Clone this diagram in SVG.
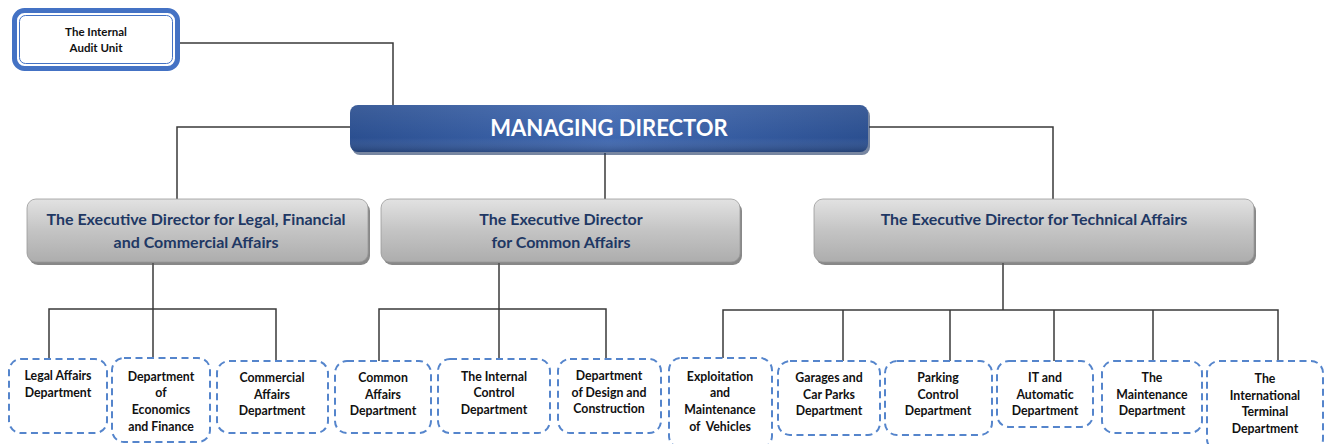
<svg xmlns="http://www.w3.org/2000/svg" width="1326" height="444" viewBox="0 0 1326 444">
<style>
.conn{fill:none;stroke:#3a3a3a;stroke-width:1.5}
.dept rect{fill:#fff;stroke:#5585CC;stroke-width:2;stroke-dasharray:7 4.5}
.dept text{font-family:Lato,"Liberation Sans",sans-serif;font-weight:bold;font-size:12.3px;fill:#111;text-anchor:middle}
.exec rect.b{fill:url(#gray);stroke:#9a9a9a;stroke-width:0.8}
.exec text{font-family:Lato,"Liberation Sans",sans-serif;font-weight:bold;font-size:16px;fill:#1F3864;text-anchor:middle}
</style>
<defs>
<linearGradient id="gray" x1="0" y1="0" x2="0" y2="1">
<stop offset="0" stop-color="#e2e2e2"/>
<stop offset="0.5" stop-color="#c4c4c4"/>
<stop offset="1" stop-color="#adadad"/>
</linearGradient>
<linearGradient id="blue" x1="0" y1="0" x2="1" y2="0">
<stop offset="0" stop-color="#2B4F90"/>
<stop offset="0.5" stop-color="#4068B0"/>
<stop offset="1" stop-color="#2B4F90"/>
</linearGradient>
<linearGradient id="blueV" x1="0" y1="0" x2="0" y2="1">
<stop offset="0" stop-color="#ffffff" stop-opacity="0.08"/>
<stop offset="0.7" stop-color="#ffffff" stop-opacity="0"/>
<stop offset="1" stop-color="#000000" stop-opacity="0.2"/>
</linearGradient>
</defs>

<g id="connectors">
<polyline class="conn" points="180,43 393,43 393,105"/>
<polyline class="conn" points="350,127 177,127 177,199"/>
<polyline class="conn" points="869,127 1053,127 1053,199"/>
<line class="conn" x1="605" y1="153" x2="605" y2="199"/>
<line class="conn" x1="153" y1="263" x2="153" y2="358"/>
<polyline class="conn" points="49,358 49,309 276,309 276,361"/>
<line class="conn" x1="499" y1="263" x2="499" y2="359"/>
<polyline class="conn" points="379,361 379,309 606,309 606,359"/>
<line class="conn" x1="1003" y1="263" x2="1003" y2="310"/>
<polyline class="conn" points="723,358 723,310 1278,310 1278,361"/>
<line class="conn" x1="843" y1="310" x2="843" y2="361"/>
<line class="conn" x1="950" y1="310" x2="950" y2="361"/>
<line class="conn" x1="1054" y1="310" x2="1054" y2="361"/>
<line class="conn" x1="1153" y1="310" x2="1153" y2="361"/>
</g>

<g id="audit">
<rect x="14.5" y="10.5" width="163" height="58" rx="10" fill="#fff" stroke="#4472C4" stroke-width="5"/>
<rect x="19.5" y="15.5" width="153" height="48" rx="6" fill="none" stroke="#4472C4" stroke-width="1"/>
<text font-family="Lato,'Liberation Sans',sans-serif" font-weight="bold" font-size="11.5" fill="#111" text-anchor="middle"><tspan x="96" y="36">The Internal</tspan><tspan x="96" y="52">Audit Unit</tspan></text>
</g>

<g id="md">
<rect x="352" y="108" width="518" height="47" rx="8" fill="#1c3563" opacity="0.6"/>
<rect x="350" y="105" width="518" height="47" rx="8" fill="url(#blue)"/>
<rect x="350" y="105" width="518" height="47" rx="8" fill="url(#blueV)"/>
<text x="609" y="136" font-family="Lato,'Liberation Sans',sans-serif" font-weight="bold" font-size="22" fill="#fff" text-anchor="middle">MANAGING DIRECTOR</text>
</g>

<g id="exec1" class="exec">
<rect x="29" y="202" width="341" height="63" rx="9" fill="#555" opacity="0.7"/>
<rect class="b" x="27" y="199" width="341" height="63" rx="9"/>
<text><tspan x="196" y="225">The Executive Director for Legal, Financial</tspan><tspan x="196" y="248">and Commercial Affairs</tspan></text>
</g>
<g id="exec2" class="exec">
<rect x="383" y="202" width="359" height="63" rx="9" fill="#555" opacity="0.7"/>
<rect class="b" x="381" y="199" width="359" height="63" rx="9"/>
<text><tspan x="561" y="225">The Executive Director</tspan><tspan x="561" y="248">for Common Affairs</tspan></text>
</g>
<g id="exec3" class="exec">
<rect x="816" y="202" width="440" height="63" rx="9" fill="#555" opacity="0.7"/>
<rect class="b" x="814" y="199" width="440" height="63" rx="9"/>
<text><tspan x="1034" y="225">The Executive Director for Technical Affairs</tspan></text>
</g>

<g id="d-legal" class="dept"><rect x="9" y="359" width="98" height="74" rx="12"/><text><tspan x="58" y="380">Legal Affairs</tspan><tspan x="58" y="397">Department</tspan></text></g>
<g id="d-econ" class="dept"><rect x="112" y="358" width="98" height="84" rx="12"/><text><tspan x="161" y="381">Department</tspan><tspan x="161" y="397">of</tspan><tspan x="161" y="414">Economics</tspan><tspan x="161" y="431">and Finance</tspan></text></g>
<g id="d-comm" class="dept"><rect x="217" y="361" width="111" height="72" rx="12"/><text><tspan x="272" y="382">Commercial</tspan><tspan x="272" y="399">Affairs</tspan><tspan x="272" y="415">Department</tspan></text></g>
<g id="d-common" class="dept"><rect x="335" y="361" width="96" height="72" rx="12"/><text><tspan x="383" y="382">Common</tspan><tspan x="383" y="399">Affairs</tspan><tspan x="383" y="415">Department</tspan></text></g>
<g id="d-control" class="dept"><rect x="438" y="359" width="112" height="74" rx="12"/><text><tspan x="494" y="381">The Internal</tspan><tspan x="494" y="397">Control</tspan><tspan x="494" y="414">Department</tspan></text></g>
<g id="d-design" class="dept"><rect x="558" y="359" width="103" height="74" rx="12"/><text><tspan x="609" y="380">Department</tspan><tspan x="609" y="397">of Design and</tspan><tspan x="609" y="413">Construction</tspan></text></g>
<g id="d-exploit" class="dept"><rect x="669" y="358" width="103" height="90" rx="12"/><text><tspan x="720" y="381">Exploitation</tspan><tspan x="720" y="397">and</tspan><tspan x="720" y="414">Maintenance</tspan><tspan x="720" y="431">of&#160; Vehicles</tspan></text></g>
<g id="d-garages" class="dept"><rect x="778" y="361" width="102" height="74" rx="12"/><text><tspan x="829" y="382">Garages and</tspan><tspan x="829" y="399">Car Parks</tspan><tspan x="829" y="415">Department</tspan></text></g>
<g id="d-parking" class="dept"><rect x="885" y="361" width="107" height="74" rx="12"/><text><tspan x="938" y="382">Parking</tspan><tspan x="938" y="399">Control</tspan><tspan x="938" y="415">Department</tspan></text></g>
<g id="d-it" class="dept"><rect x="997" y="361" width="96" height="66" rx="12"/><text><tspan x="1045" y="382">IT and</tspan><tspan x="1045" y="399">Automatic</tspan><tspan x="1045" y="415">Department</tspan></text></g>
<g id="d-maint" class="dept"><rect x="1102" y="361" width="100" height="72" rx="12"/><text><tspan x="1152" y="382">The</tspan><tspan x="1152" y="399">Maintenance</tspan><tspan x="1152" y="415">Department</tspan></text></g>
<g id="d-intl" class="dept"><rect x="1207" y="361" width="116" height="90" rx="12"/><text><tspan x="1265" y="383">The</tspan><tspan x="1265" y="400">International</tspan><tspan x="1265" y="416">Terminal</tspan><tspan x="1265" y="433">Department</tspan></text></g>
</svg>
